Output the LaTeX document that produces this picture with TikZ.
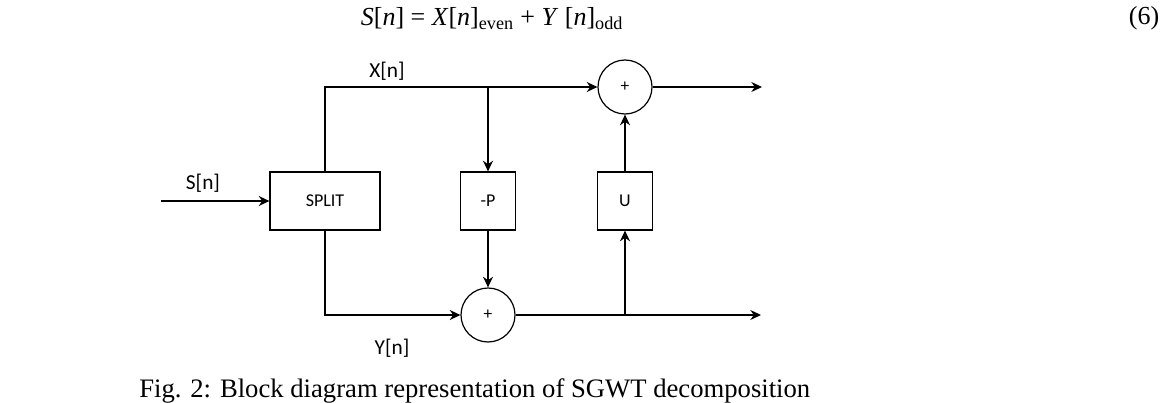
\documentclass[tikz,border=0pt]{standalone}
\usepackage{fontspec}
\setmainfont{Liberation Serif}
\newfontfamily\blockfont{Carlito}
\usepackage{tikz}
\usetikzlibrary{arrows.meta, positioning}

\begin{document}
\begin{tikzpicture}[
    node distance=85.5pt,
    block/.style={rectangle, minimum width=41.25pt, minimum height=43.5pt, text centered, draw=black, line width=0.9pt, font=\blockfont\fontsize{13.5}{16}\selectfont},
    adder/.style={circle, minimum size=40.5pt, inner sep=0pt, draw=black, line width=0.9pt, font=\blockfont\fontsize{13}{15}\selectfont},
    sig/.style={font=\blockfont\fontsize{16}{19}\selectfont},
    arrow/.style={line width=0.9pt,-{Stealth[length=8pt,width=7.5pt]}}
]
\useasboundingbox (0,0) rectangle (875.25pt,-302.25pt);
\node (eq) at (369pt,-14pt) {\fontsize{19.5}{22}\selectfont\textit{S}[\textit{n}] = \textit{X}[\textit{n}]\textsubscript{even} + \textit{Y} [\textit{n}]\textsubscript{odd}};
\node (eqno) at (858pt,-14pt) {\fontsize{19.5}{22}\selectfont(6)};
\node (split) [block, minimum width=82.5pt] at (243.75pt,-150.75pt) {SPLIT};
\node (pblock) [block, right of=split, xshift=36.75pt] {-P};
\node (ublock) [block, right of=pblock, xshift=17.25pt] {U};
\node (sumtop) [adder, above of=ublock] {+};
\node (sumbot) [adder, below of=pblock] {+};
\coordinate [left of=split, xshift=-37.5pt] (in);
\coordinate [right of=sumtop, xshift=17.25pt] (outtop);
\coordinate [right of=sumbot, xshift=119.25pt] (outbot);
\node (xlab) [sig] at (290.25pt,-53.25pt) {X[n]};
\node (slab) [sig] at (152.25pt,-137.25pt) {S[n]};
\node (ylab) [sig] at (294pt,-261pt) {Y[n]};
\node (caption) [anchor=base west, inner sep=0pt] at (104.25pt,-297.75pt) {\fontsize{20}{24}\selectfont Fig. 2: Block diagram representation of SGWT decomposition};
\draw [arrow] (in) -- (split);
\draw [arrow] (split.north) |- (sumtop);
\draw [arrow] (pblock.north |- sumtop) -- (pblock);
\draw [arrow] (pblock) -- (sumbot);
\draw [arrow] (split.south) |- (sumbot);
\draw [arrow] (sumbot) -- (outbot);
\draw [arrow] (ublock.south |- sumbot) -- (ublock);
\draw [arrow] (ublock) -- (sumtop);
\draw [arrow] (sumtop) -- (outtop);
\end{tikzpicture}
\end{document}
